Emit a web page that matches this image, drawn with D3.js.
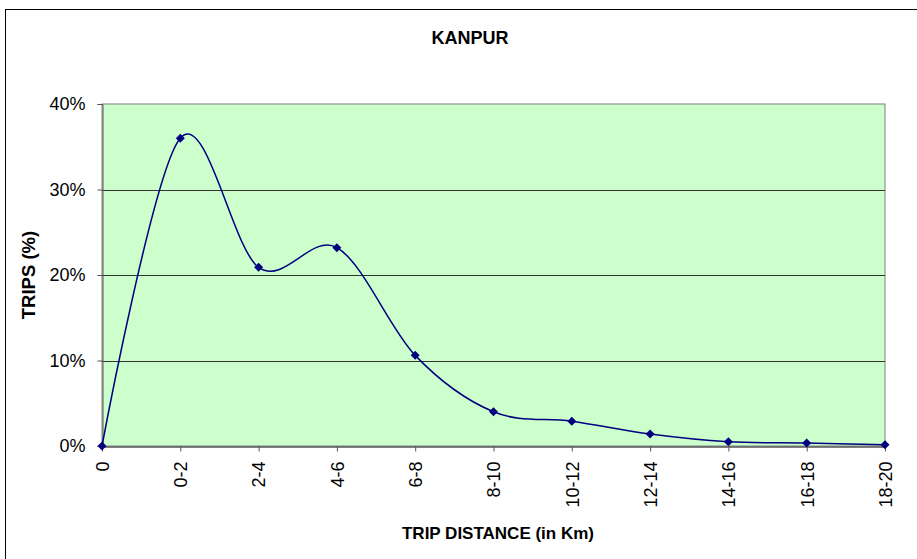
<!DOCTYPE html>
<html>
<head>
<meta charset="utf-8">
<script src="https://cdn.jsdelivr.net/npm/d3@7"></script>
<style>
  html, body { margin: 0; padding: 0; background: #fff; }
  svg { display: block; font-family: "Liberation Sans", Arial, sans-serif; }
</style>
</head>
<body>
<svg id="chart" width="917" height="559"></svg>
<script>
// Trip length distribution for Kanpur
const categories = ["0", "0-2", "2-4", "4-6", "6-8", "8-10", "10-12", "12-14", "14-16", "16-18", "18-20"];
const tripShare = [0, 36.0, 20.9, 23.2, 10.6, 4.0, 2.9, 1.4, 0.5, 0.35, 0.15];
const yTicks = [0, 10, 20, 30, 40];
const chartTitle = "KANPUR";
const xTitle = "TRIP DISTANCE (in Km)";
const yTitle = "TRIPS (%)";

const svg = d3.select("#chart");
const W = 917, H = 559;
const plot = { left: 102, top: 104, right: 885, bottom: 446 };
const FONT = "Liberation Sans, Arial, sans-serif";

// outer chart frame
svg.append("rect")
  .attr("x", 5.5).attr("y", 9.5)
  .attr("width", W - 5).attr("height", H - 9)
  .attr("fill", "#fff").attr("stroke", "#000").attr("stroke-width", 1);

const x = d3.scalePoint().domain(categories).range([plot.left, plot.right]);
const y = d3.scaleLinear().domain([0, 40]).range([plot.bottom, plot.top]);

// plot area
svg.append("rect")
  .attr("x", plot.left).attr("y", plot.top)
  .attr("width", plot.right - plot.left).attr("height", plot.bottom - plot.top)
  .attr("fill", "#CCFFCC").attr("stroke", "#808080").attr("stroke-width", 1);

// horizontal gridlines
svg.append("g")
  .selectAll("line")
  .data(yTicks.filter(t => t > 0 && t < 40))
  .join("line")
  .attr("x1", plot.left).attr("x2", plot.right)
  .attr("y1", d => Math.round(y(d)) + 0.5).attr("y2", d => Math.round(y(d)) + 0.5)
  .attr("stroke", "#333").attr("stroke-width", 1);

// y axis
const yAxis = svg.append("g")
  .attr("transform", `translate(${plot.left + 0.5},0)`)
  .call(d3.axisLeft(y).tickValues(yTicks).tickFormat(d => d + "%").tickSize(5).tickPadding(12));
yAxis.select(".domain").attr("stroke", "#555");
yAxis.selectAll(".tick line").attr("stroke", "#555");
yAxis.selectAll(".tick text").attr("font-size", 18).attr("fill", "#000")
  .attr("font-family", FONT);

// x axis
const xAxis = svg.append("g")
  .attr("transform", `translate(0,${plot.bottom + 0.5})`)
  .call(d3.axisBottom(x).tickSize(5).tickSizeOuter(0));
xAxis.select(".domain").attr("stroke", "#555").attr("stroke-width", 1.5);
xAxis.selectAll(".tick line").attr("stroke", "#555");
xAxis.selectAll(".tick text")
  .attr("font-size", 18).attr("fill", "#000")
  .attr("font-family", FONT)
  .attr("transform", "rotate(-90)")
  .attr("text-anchor", "end")
  .attr("x", -15).attr("y", 0).attr("dy", "0.35em");

// smoothed trip share line
const line = d3.line()
  .x((d, i) => x(categories[i]))
  .y(d => y(d))
  .curve(d3.curveCardinal.tension(0));

svg.append("path")
  .datum(tripShare)
  .attr("d", line)
  .attr("fill", "none")
  .attr("stroke", "#000080")
  .attr("stroke-width", 1.5);

// diamond markers
svg.append("g")
  .selectAll("path")
  .data(tripShare)
  .join("path")
  .attr("transform", (d, i) => `translate(${x(categories[i])},${y(d)})`)
  .attr("d", "M0,-4.5L4.5,0L0,4.5L-4.5,0Z")
  .attr("fill", "#000080");

// titles
svg.append("text")
  .attr("x", 470).attr("y", 44)
  .attr("text-anchor", "middle")
  .attr("font-size", 18).attr("font-weight", "bold")
  .text(chartTitle);

svg.append("text")
  .attr("x", 498).attr("y", 539)
  .attr("text-anchor", "middle")
  .attr("font-size", 17).attr("font-weight", "bold")
  .text(xTitle);

svg.append("text")
  .attr("transform", "translate(35,275) rotate(-90)")
  .attr("text-anchor", "middle")
  .attr("font-size", 18.5).attr("font-weight", "bold")
  .text(yTitle);
</script>
</body>
</html>
